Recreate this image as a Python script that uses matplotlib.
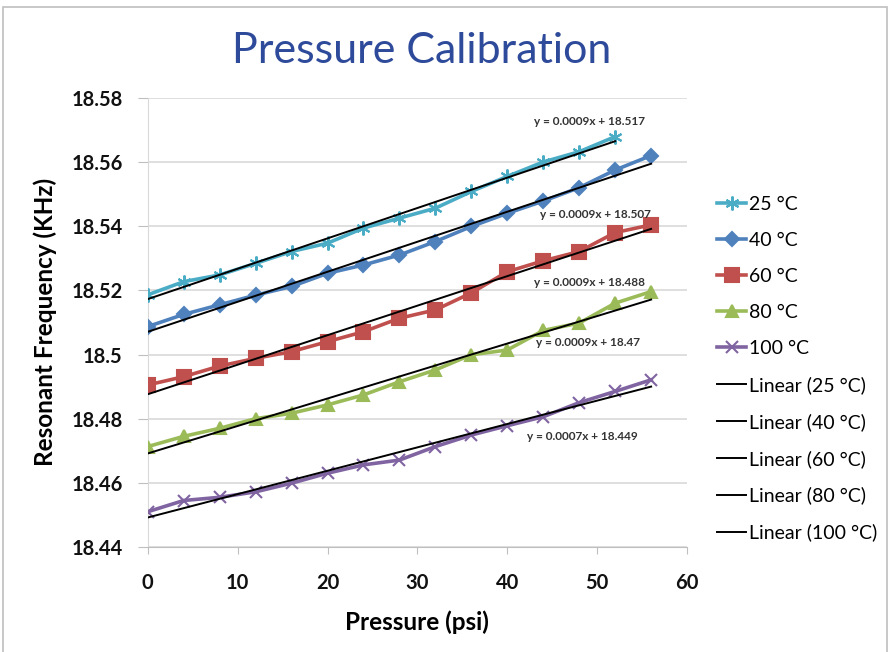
import numpy as np
import matplotlib.pyplot as plt
from matplotlib.patches import Rectangle

plt.rcParams['font.family'] = ['Lato', 'DejaVu Sans']

pressure = [0, 4, 8, 12, 16, 20, 24, 28, 32, 36, 40, 44, 48, 52, 56]

f25 = [18.5186, 18.5227, 18.5248, 18.5284, 18.5321, 18.5347, 18.5394, 18.5425,
       18.5456, 18.5508, 18.5555, 18.5600, 18.5632, 18.5679]
f40 = [18.5087, 18.5125, 18.5155, 18.5185, 18.5212, 18.5253, 18.5279, 18.5310,
       18.5352, 18.5399, 18.5440, 18.5478, 18.5520, 18.5575, 18.5620]
f60 = [18.4905, 18.4931, 18.4964, 18.4988, 18.5009, 18.5040, 18.5071, 18.5113,
       18.5139, 18.5192, 18.5258, 18.5292, 18.5321, 18.5380, 18.5404]
f80 = [18.4713, 18.4745, 18.4770, 18.4800, 18.4817, 18.4843, 18.4874, 18.4915,
       18.4952, 18.4999, 18.5014, 18.5075, 18.5098, 18.5160, 18.5196]
f100 = [18.4510, 18.4545, 18.4555, 18.4572, 18.4599, 18.4630, 18.4656, 18.4671,
        18.4713, 18.4749, 18.4778, 18.4806, 18.4850, 18.4885, 18.4921]

series = [
    ("25 °C", f25, "#4BACC6", (6, 2, 0), 10),
    ("40 °C", f40, "#4F81BD", "D", 7.5),
    ("60 °C", f60, "#C0504D", "s", 9.5),
    ("80 °C", f80, "#9BBB59", "^", 8.5),
    ("100 °C", f100, "#8064A2", "x", 9),
]

fit_labels = ["y = 0.0009x + 18.517", "y = 0.0009x + 18.507", "y = 0.0009x + 18.488",
              "y = 0.0009x + 18.47", "y = 0.0007x + 18.449"]
label_pos = [(49.2, 18.5725), (49.8, 18.5435), (49.2, 18.5224), (49.0, 18.5036), (48.4, 18.4743)]

fig = plt.figure(figsize=(8.9, 6.52), dpi=100)
ax = fig.add_axes([0.166, 0.161, 0.606, 0.689])

handles = []
for name, vals, color, mk, ms in series:
    x = np.array(pressure[:len(vals)])
    h, = ax.plot(x, vals, color=color, lw=2.6, marker=mk, markersize=ms,
                 markeredgewidth=1.5, markeredgecolor=color, label=name, zorder=3)
    handles.append(h)

fit_handles = []
for (name, vals, color, mk, ms), txt, pos in zip(series, fit_labels, label_pos):
    x = np.array(pressure[:len(vals)])
    k, b = np.polyfit(x, vals, 1)
    xx = np.array([x[0], x[-1]])
    h, = ax.plot(xx, k * xx + b, color="black", lw=1.4, zorder=4,
                 label="Linear (%s)" % name)
    fit_handles.append(h)
    ax.text(pos[0], pos[1], txt, fontsize=8.5, fontweight="bold", color="#333333",
            ha="center", va="center", zorder=5)

ax.set_xlim(0, 60)
ax.set_ylim(18.44, 18.58)
ax.set_xticks(range(0, 61, 10))
ax.set_yticks(np.arange(18.44, 18.581, 0.02))
ax.set_yticklabels(["18.44", "18.46", "18.48", "18.5", "18.52", "18.54", "18.56", "18.58"])
ax.yaxis.grid(True, color="#D9D9D9", lw=1.2)
ax.set_axisbelow(True)
for s in ["top", "right"]:
    ax.spines[s].set_visible(False)
ax.spines["left"].set_color("#D9D9D9")
ax.spines["bottom"].set_color("#BFBFBF")
ax.tick_params(axis="both", colors="#BFBFBF", labelcolor="#111111", labelsize=14.5)
ax.tick_params(axis="x", length=5, pad=14)
ax.tick_params(axis="y", length=7, pad=11)
for lab in ax.get_xticklabels() + ax.get_yticklabels():
    lab.set_fontweight("bold")

ax.set_xlabel("Pressure (psi)", fontsize=17.5, fontweight="bold", labelpad=12)
ax.set_ylabel("Resonant Frequency (KHz)", fontsize=17.5, fontweight="bold", labelpad=10)

fig.text(0.474, 0.922, "Pressure Calibration", fontsize=31, color="#2E4A9A",
         ha="center", va="center")

fig.legend(handles=handles + fit_handles, loc="upper left",
           bbox_to_anchor=(0.797, 0.712), frameon=False, fontsize=14,
           handlelength=1.5, handletextpad=0.15, labelspacing=0.98,
           borderaxespad=0)

fig.patches.append(Rectangle((0.003, -0.01), 0.994, 1.0, transform=fig.transFigure,
                             fill=False, edgecolor="#BFBFBF", lw=1.2))

fig.savefig("out.png", dpi=100)
